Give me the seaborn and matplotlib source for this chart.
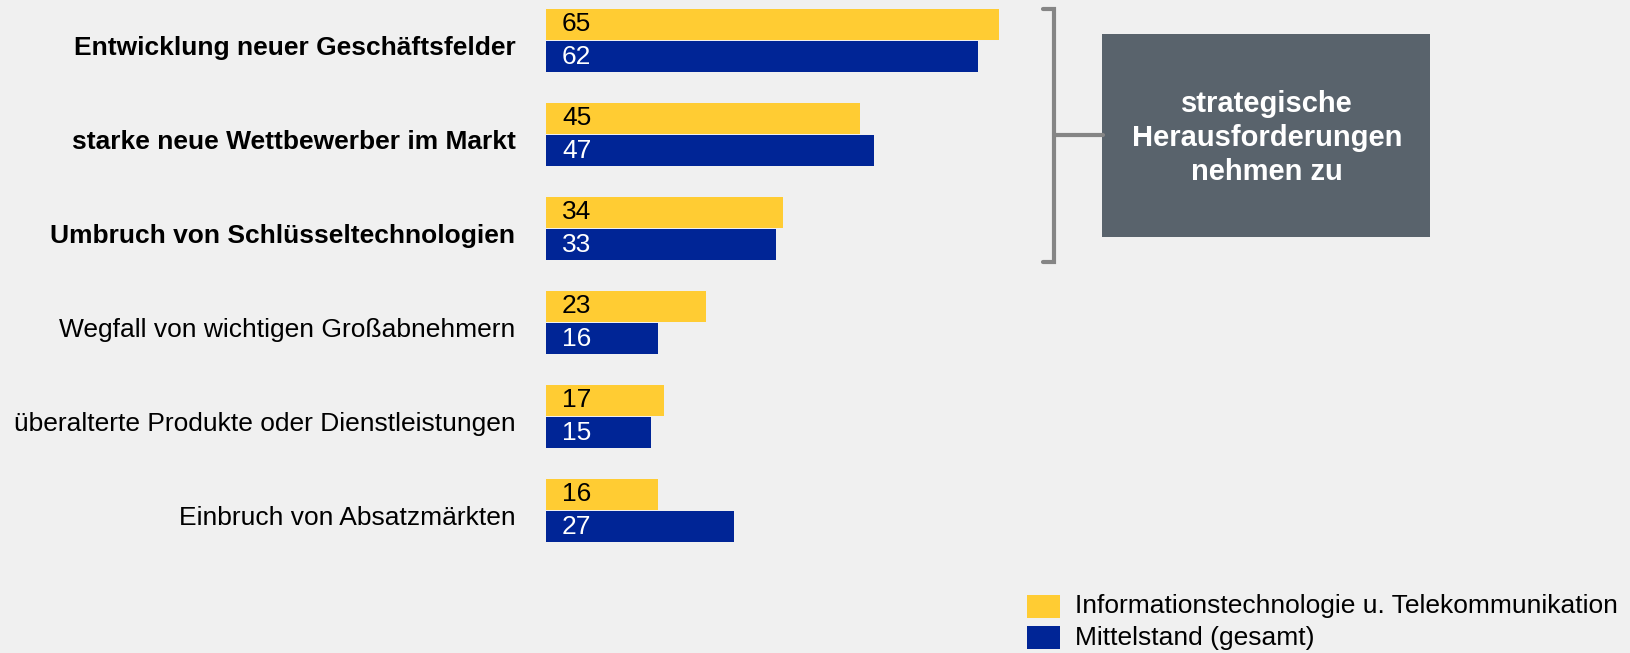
import matplotlib
matplotlib.use("Agg")
import matplotlib.pyplot as plt
import seaborn as sns
import pandas as pd
from matplotlib.patches import Rectangle
from matplotlib.lines import Line2D

categories = [
    "Entwicklung neuer Geschäftsfelder",
    "starke neue Wettbewerber im Markt",
    "Umbruch von Schlüsseltechnologien",
    "Wegfall von wichtigen Großabnehmern",
    "überalterte Produkte oder Dienstleistungen",
    "Einbruch von Absatzmärkten",
]
series_names = ["Informationstechnologie u. Telekommunikation", "Mittelstand (gesamt)"]
it_values = [65, 45, 34, 23, 17, 16]
mittelstand_values = [62, 47, 33, 16, 15, 27]
bold_count = 3
box_text = "strategische\nHerausforderungen\nnehmen zu"

colors = ["#FFCC33", "#002596"]
bg = "#F0F0F0"

df = pd.DataFrame({
    "Kategorie": categories * 2,
    "Wert": it_values + mittelstand_values,
    "Serie": [series_names[0]] * len(categories) + [series_names[1]] * len(categories),
})

sns.set_theme(style="white")
plt.rcParams["font.family"] = ["Liberation Sans", "DejaVu Sans"]

W, H = 1631, 653
fig = plt.figure(figsize=(W / 100, H / 100), dpi=100, facecolor=bg)

ax_left, ax_right = 546, 546 + 6.97 * 65
ax_top, ax_bot = 0, 600
ax = fig.add_axes([ax_left / W, 1 - ax_bot / H, (ax_right - ax_left) / W, (ax_bot - ax_top) / H])
ax.set_facecolor(bg)

sns.barplot(data=df, y="Kategorie", x="Wert", hue="Serie", order=categories,
            hue_order=series_names, palette=colors, orient="h",
            width=0.69, gap=0.05, ax=ax, legend=False, saturation=1, linewidth=0)

ax.set_xlim(0, 65)
ax.set_ylim((600 - 40.5) / 94, -40.5 / 94)
for s in ax.spines.values():
    s.set_visible(False)
ax.set_xticks([])
ax.set_yticks([])
ax.set_xlabel("")
ax.set_ylabel("")

# category labels (slightly below group centre, as in the reference)
for i, cat in enumerate(categories):
    ax.annotate(cat, xy=(0, i), xycoords=("axes fraction", "data"),
                xytext=(-22, -5.5), textcoords="offset points",
                ha="right", va="center", fontsize=19, color="#000000",
                fontweight="bold" if i < bold_count else "normal")

# value labels inside bars at start
n = len(categories)
for j, p in enumerate(ax.patches[: 2 * n]):
    series_idx = j // n
    val = p.get_width()
    yc = p.get_y() + p.get_height() / 2
    ax.annotate(f"{val:.0f}", xy=(0, yc), xytext=(11.5, 0), textcoords="offset points",
                ha="left", va="center", fontsize=19,
                color="#000000" if series_idx == 0 else "#FFFFFF")


def fx(px):
    return px / W


def fy(py):
    return 1 - py / H


# bracket
lc = "#858585"
lw = 3
fig.add_artist(Line2D([fx(1043), fx(1054), fx(1054), fx(1043)],
                      [fy(9), fy(9), fy(262), fy(262)], color=lc, lw=lw,
                      solid_joinstyle="miter", transform=fig.transFigure))
fig.add_artist(Line2D([fx(1054), fx(1103)], [fy(135), fy(135)], color=lc, lw=lw,
                      transform=fig.transFigure))

# box
fig.add_artist(Rectangle((fx(1102), fy(237)), fx(1430) - fx(1102), fy(34) - fy(237),
                         transform=fig.transFigure, facecolor="#59636C", edgecolor="none"))
fig.text(fx(1267), fy(138), box_text, ha="center", va="center", fontsize=21,
         fontweight="bold", color="#FFFFFF", linespacing=1.27)

# legend
for k, (name, c) in enumerate(zip(series_names, colors)):
    top = 595 + k * 31
    fig.add_artist(Rectangle((fx(1027), fy(top + 23)), fx(1060) - fx(1027), fy(top) - fy(top + 23),
                             transform=fig.transFigure, facecolor=c, edgecolor="none"))
    fig.text(fx(1075), fy(top + 11.5), name, ha="left", va="center", fontsize=19, color="#000000")

fig.savefig("out.png", dpi=100, facecolor=bg)
